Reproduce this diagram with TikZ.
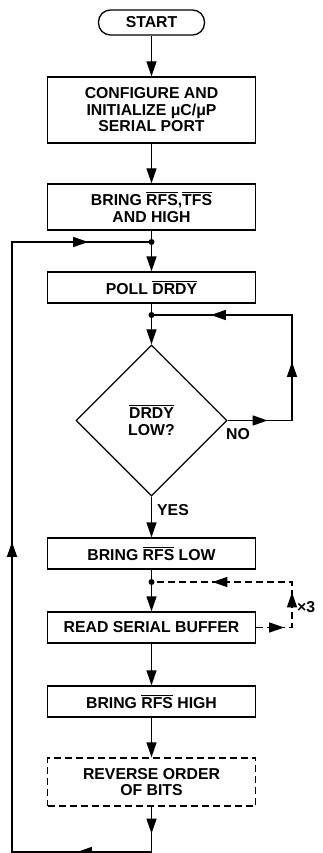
\documentclass[tikz,border=0pt]{standalone}
\usepackage{fontspec}
\setmainfont{Liberation Sans}
\usetikzlibrary{arrows.meta,shapes.geometric,decorations.markings}
\newcommand\ovl[1]{\setbox0\hbox{#1}\rlap{\rule[\dimexpr\ht0+1.6pt\relax]{\wd0}{1.1pt}}\box0\relax}
\begin{document}
\begin{tikzpicture}[x=1pt,y=-1pt,
  txt/.style={font=\fontsize{15.8}{16.5}\selectfont\bfseries},
  box/.style={draw, line width=1.3pt, minimum width=208pt, inner sep=0pt, align=center, txt},
  dot/.style={circle, fill, inner sep=0pt, minimum size=6pt},
  ln/.style={line width=1.3pt},
  arr/.style={line width=1.3pt, -{Triangle[length=15pt,width=10pt]}},
  dsh/.style={dash pattern=on 7pt off 4pt}]
\useasboundingbox (0,0) rectangle (322,853);
\def\tip{\arrow{Triangle[length=15pt,width=10pt]}}

\node[draw, line width=1.3pt, rounded corners=12pt, minimum width=106pt, minimum height=25pt, inner sep=0pt, txt] (start) at (151.5,22.5) {START};
\node[box, minimum height=66pt] (conf) at (151.5,110) {CONFIGURE AND\\INITIALIZE μC/μP\\SERIAL PORT};
\node[box, minimum height=46pt] (bring) at (151.5,207) {BRING \ovl{RFS},\ovl{TFS}\\AND HIGH};
\node[dot] (d1) at (151.5,242) {};
\node[box, minimum height=31pt] (poll) at (151.5,287.5) {POLL \ovl{DRDY}};
\node[dot] (d2) at (151.5,315) {};
\node[draw, line width=1.3pt, shape=diamond, aspect=1, minimum width=151pt, minimum height=151pt, inner sep=0pt, align=center, txt] (dec) at (151.5,420.5) {\ovl{DRDY}\\LOW?};
\node[box, minimum height=31pt] (low) at (151.5,553.5) {BRING \ovl{RFS} LOW};
\node[dot] (d3) at (151.5,582) {};
\node[box, minimum height=31pt] (read) at (151.5,627.5) {READ SERIAL BUFFER};
\node[box, minimum height=31pt] (high) at (151.5,701.5) {BRING \ovl{RFS} HIGH};
\node[box, dsh, minimum height=48pt] (rev) at (151.5,782) {REVERSE ORDER\\OF BITS};

\node[txt, anchor=west, inner sep=0pt] (yes) at (157,510) {YES};
\node[txt, anchor=west, inner sep=0pt] (no) at (226,434) {NO};
\node[txt, anchor=west, inner sep=0pt] (x3) at (297,607) {×3};

\coordinate (nr) at (292,420.5);
\coordinate (nt) at (292,315);
\coordinate (xr) at (292,627.5);
\coordinate (xt) at (292,582);
\coordinate (bl) at (151.5,852);
\coordinate (bll) at (12,852);
\coordinate (tl) at (12,242);

\draw[arr] (start) -- (conf);
\draw[arr] (conf) -- (bring);
\draw[ln] (bring) -- (d1.center);
\draw[arr] (d1.center) -- (poll);
\draw[ln] (poll) -- (d2.center);
\draw[arr] (d2.center) -- (dec);
\draw[arr] (dec) -- (low);
\draw[ln] (low) -- (d3.center);
\draw[arr] (d3.center) -- (read);
\draw[arr] (read) -- (high);
\draw[arr] (high) -- (rev);

\draw[ln, postaction={decorate}, decoration={markings,
  mark=at position 40pt with {\tip},
  mark=at position 123pt with {\tip},
  mark=at position 251pt with {\tip}}]
  (dec.east) -- (nr) -- (nt) -- (d2.center);

\draw[ln, dsh, postaction={decorate}, decoration={markings,
  mark=at position 28pt with {\tip},
  mark=at position 71pt with {\tip},
  mark=at position 161pt with {\tip}}]
  (read.east) -- (xr) -- (xt) -- (d3.center);

\draw[ln, postaction={decorate}, decoration={markings,
  mark=at position 27pt with {\tip},
  mark=at position 120pt with {\tip},
  mark=at position 495pt with {\tip},
  mark=at position 871pt with {\tip}}]
  (rev.south) -- (bl) -- (bll) -- (tl) -- (d1.center);
\end{tikzpicture}
\end{document}
